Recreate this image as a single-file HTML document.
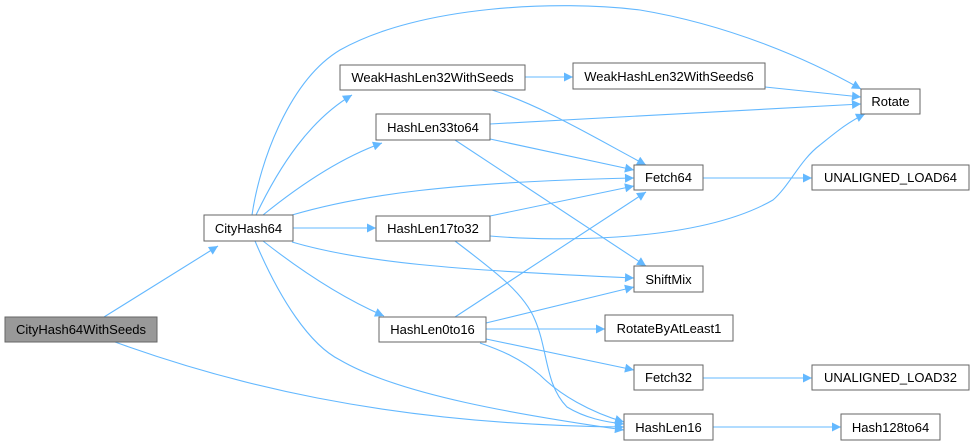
<!DOCTYPE html>
<html><head><meta charset="utf-8"><style>
html,body{margin:0;padding:0;background:#fff;}
svg{display:block;}
text{font-family:"Liberation Sans",Arial,sans-serif;font-size:13px;fill:#000;}
.n{fill:#fff;stroke:#666;stroke-width:1;}
.e{fill:none;stroke:#63b8ff;stroke-width:1.1;}
</style></head><body>
<svg width="974" height="445" viewBox="0 0 974 445" xmlns="http://www.w3.org/2000/svg">
<defs><marker id="a" viewBox="0 0 10 10" refX="10" refY="5" markerWidth="11" markerHeight="9" orient="auto" markerUnits="userSpaceOnUse"><path d="M0,0 L10,5 L0,10 z" fill="#63b8ff"/></marker></defs>
<g class="e" marker-end="url(#a)">
<path d="M104,317 L218,246"/>
<path d="M115,342 C220,380 380,425 624,427"/>
<path d="M252,215 C260,160 290,80 340,50 C420,5 560,0 640,10 C730,25 810,60 861,89"/>
<path d="M256,215 C280,165 310,120 352,95"/>
<path d="M263,215 C300,185 340,158 382,143"/>
<path d="M292,215 C360,195 450,182 634,178"/>
<path d="M293,228 L376,228"/>
<path d="M292,242 C360,262 450,270 634,278"/>
<path d="M263,241 C300,270 340,297 384,316"/>
<path d="M255,241 C280,300 310,345 340,360 C400,395 520,415 624,430"/>
<path d="M525,77 L573,77"/>
<path d="M492,90 C540,105 590,135 646,165"/>
<path d="M765,87 L861,97"/>
<path d="M490,124 L861,104"/>
<path d="M490,139 L634,170"/>
<path d="M455,140 L646,266"/>
<path d="M490,216 L634,186"/>
<path d="M490,236 C560,242 700,242 773,200 C790,185 800,160 820,145 C835,133 848,122 865,114"/>
<path d="M455,241 C500,275 525,295 535,320 C548,350 545,385 567,407 C585,418 605,422 624,424"/>
<path d="M455,317 L646,192"/>
<path d="M486,323 L634,287"/>
<path d="M486,329 L605,329"/>
<path d="M486,339 L634,370"/>
<path d="M480,343 C500,350 520,358 540,375 C560,395 590,412 624,422"/>
<path d="M703,178 L812,178"/>
<path d="M703,378 L812,378"/>
<path d="M713,427 L841,427"/>
</g>
<rect x="5" y="317" width="152" height="25" fill="#999" stroke="#666"/>
<text x="81" y="334" text-anchor="middle">CityHash64WithSeeds</text>
<rect class="n" x="204" y="215" width="89" height="26"/><text x="248.5" y="233" text-anchor="middle">CityHash64</text>
<rect class="n" x="340" y="65" width="185" height="25"/><text x="432.5" y="82" text-anchor="middle">WeakHashLen32WithSeeds</text>
<rect class="n" x="376" y="114" width="114" height="26"/><text x="433" y="132" text-anchor="middle">HashLen33to64</text>
<rect class="n" x="376" y="216" width="114" height="25"/><text x="433" y="233" text-anchor="middle">HashLen17to32</text>
<rect class="n" x="379" y="317" width="107" height="25"/><text x="432.5" y="334" text-anchor="middle">HashLen0to16</text>
<rect class="n" x="573" y="63" width="192" height="26"/><text x="669" y="81" text-anchor="middle">WeakHashLen32WithSeeds6</text>
<rect class="n" x="861" y="89" width="59" height="25"/><text x="890.5" y="106" text-anchor="middle">Rotate</text>
<rect class="n" x="634" y="165" width="69" height="25"/><text x="668.5" y="182" text-anchor="middle">Fetch64</text>
<rect class="n" x="812" y="165" width="157" height="25"/><text x="890.5" y="182" text-anchor="middle">UNALIGNED_LOAD64</text>
<rect class="n" x="634" y="266" width="69" height="26"/><text x="668.5" y="284" text-anchor="middle">ShiftMix</text>
<rect class="n" x="605" y="315" width="128" height="26"/><text x="669" y="333" text-anchor="middle">RotateByAtLeast1</text>
<rect class="n" x="634" y="365" width="69" height="25"/><text x="668.5" y="382" text-anchor="middle">Fetch32</text>
<rect class="n" x="812" y="365" width="157" height="25"/><text x="890.5" y="382" text-anchor="middle">UNALIGNED_LOAD32</text>
<rect class="n" x="624" y="414" width="89" height="26"/><text x="668.5" y="432" text-anchor="middle">HashLen16</text>
<rect class="n" x="841" y="414" width="99" height="26"/><text x="890.5" y="432" text-anchor="middle">Hash128to64</text>
</svg>
</body></html>
